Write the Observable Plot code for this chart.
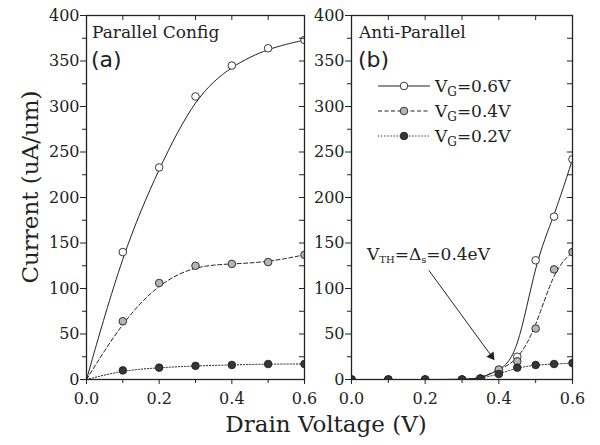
<!DOCTYPE html>
<html><head><meta charset="utf-8">
<script src="https://cdn.jsdelivr.net/npm/d3@7"></script>
<script src="https://cdn.jsdelivr.net/npm/@observablehq/plot@0.6"></script>
<style>
body{margin:0;background:#fff;}
#wrap{position:relative;width:600px;height:445px;overflow:hidden;}
#wrap svg{position:absolute;top:0;}
</style></head><body><div id="wrap"></div>
<script>
// ---- data ----
const xPar = [0, 0.1, 0.2, 0.3, 0.4, 0.5, 0.6];
const parVG06 = [0, 140, 233, 311, 345, 364, 373];
const parVG04 = [0, 64, 106, 125, 127, 129, 137];
const parVG02 = [0, 10, 13, 15, 16, 17, 17];
const xAnti = [0, 0.1, 0.2, 0.3, 0.35, 0.4, 0.45, 0.5, 0.55, 0.6];
const antiVG06 = [0, 0, 0, 0, 1, 10, 25, 131, 179, 242];
const antiVG04 = [0, 0, 0, 0, 1, 11, 20, 56, 121, 140];
const antiVG02 = [0, 0, 0, 0, 1, 6, 13, 16, 17, 18];
const gateVoltages = ["0.6", "0.4", "0.2"];
const xTicks = [0, 0.2, 0.4, 0.6];
const xMinor = [0.1, 0.3, 0.5];
const yTicks = [0, 50, 100, 150, 200, 250, 300, 350, 400];
const yMinor = [25, 75, 125, 175, 225, 275, 325, 375];
const panelTitles = ["Parallel Config", "Anti-Parallel"];
const panelTags = ["(a)", "(b)"];
const xLabel = "Drain Voltage (V)";
const yLabel = "Current (uA/um)";
const annotTail = [0.21, 120];
const annotHead = [0.385, 23];

// ---- styles ----
const dashes = [null, "4,2.5", "1.3,1.8"];
const fills = ["#ffffff", "#b5b5b5", "#363636"];
const ink = "#222";

function panel(xs, series, dotMinX, w, mL, mR, extra = []) {
  const marks = [];
  series.forEach((vals, j) => {
    const rows = xs.map((x, i) => ({x, y: vals[i]}));
    marks.push(Plot.line(rows, {x: "x", y: "y", curve: "basis", stroke: ink, strokeWidth: 1,
      strokeDasharray: dashes[j], clip: true}));
  });
  series.forEach((vals, j) => {
    const rows = xs.map((x, i) => ({x, y: vals[i]})).filter(d => d.x >= dotMinX);
    marks.push(Plot.dot(rows, {x: "x", y: "y", r: 3.8, fill: fills[j], stroke: ink, strokeWidth: 0.9, clip: true}));
  });
  const allX = xTicks.concat(xMinor);
  const allY = yTicks.concat(yMinor);
  marks.push(
    Plot.frame({stroke: ink, strokeWidth: 1.3}),
    Plot.axisX({ticks: xTicks, tickSize: 5, tickPadding: 8, tickFormat: d3.format(".1f"), label: null, stroke: ink, fill: ink}),
    Plot.axisX({ticks: xMinor, tickSize: 4, tickFormat: () => "", label: null, stroke: ink}),
    Plot.axisX({anchor: "bottom", frameAnchor: "top", ticks: allX, tickSize: 5, tickFormat: () => "", label: null, stroke: ink}),
    Plot.axisY({ticks: yTicks, tickSize: 6, tickPadding: 1, tickFormat: d => String(d), label: null, stroke: ink, fill: ink}),
    Plot.axisY({ticks: yMinor, tickSize: 4, tickFormat: () => "", label: null, stroke: ink}),
    Plot.axisY({anchor: "left", frameAnchor: "right", ticks: allY, tickSize: 5, tickFormat: () => "", label: null, stroke: ink}),
    ...extra
  );
  return Plot.plot({
    width: w, height: 445,
    marginLeft: mL, marginRight: mR, marginTop: 15, marginBottom: 66,
    x: {domain: [0, 0.6]},
    y: {domain: [0, 400]},
    style: {fontFamily: "'DejaVu Serif', serif", fontSize: "16px", background: "transparent", overflow: "visible", color: ink},
    marks
  });
}

const wrap = document.getElementById("wrap");
const p1 = panel(xPar, [parVG06, parVG04, parVG02], 0.05, 310, 86, 6);
p1.style.left = "0px";
const arrowMarks = [
  Plot.link([0], {x1: () => annotTail[0], y1: () => annotTail[1], x2: () => annotHead[0], y2: () => annotHead[1], stroke: ink, strokeWidth: 1}),
  Plot.dot([0], {x: () => annotHead[0], y: () => annotHead[1], symbol: "triangle2", r: 4.2, rotate: 144, fill: ink, dx: -1.8, dy: -2.4})
];
const p2 = panel(xAnti, [antiVG06, antiVG04, antiVG02], -1, 300, 51, 28, arrowMarks);
p2.style.left = "300px";
wrap.appendChild(p1);
wrap.appendChild(p2);

// ---- overlay text: titles, legend, annotation, axis titles ----
const svg = d3.select(wrap).append("svg")
  .attr("width", 600).attr("height", 445)
  .style("left", "0px").style("pointer-events", "none")
  .style("font-family", "'DejaVu Serif', serif").attr("fill", ink);

const titleX = [92, 359];
panelTitles.forEach((t, i) => {
  svg.append("text").attr("x", titleX[i]).attr("y", 38).attr("font-size", 17).text(t);
  svg.append("text").attr("x", titleX[i] - 1).attr("y", 67).attr("font-size", 22)
    .attr("font-family", "'DejaVu Sans', sans-serif").text(panelTags[i]);
});

gateVoltages.forEach((v, j) => {
  const y = 86 + 25 * j;
  svg.append("line").attr("x1", 378).attr("x2", 430).attr("y1", y).attr("y2", y)
    .attr("stroke", ink).attr("stroke-width", 1).attr("stroke-dasharray", dashes[j]);
  svg.append("circle").attr("cx", 404).attr("cy", y).attr("r", 3.8)
    .attr("fill", fills[j]).attr("stroke", ink).attr("stroke-width", 0.9);
  const t = svg.append("text").attr("x", 435).attr("y", y + 6).attr("font-size", 17);
  t.append("tspan").text("V");
  t.append("tspan").attr("font-size", 12).attr("dy", 4).text("G");
  t.append("tspan").attr("dy", -4).text("=" + v + "V");
});

const a = svg.append("text").attr("x", 367).attr("y", 260).attr("font-size", 17);
a.append("tspan").text("V");
a.append("tspan").attr("font-size", 10).attr("dy", 3).text("TH");
a.append("tspan").attr("dy", -3).text("=Δ");
a.append("tspan").attr("font-size", 10).attr("dy", 3).text("s");
a.append("tspan").attr("dy", -3).text("=0.4eV");

svg.append("text").attr("x", 326).attr("y", 432).attr("font-size", 23)
  .attr("text-anchor", "middle").text(xLabel);
svg.append("text").attr("transform", "translate(38,187) rotate(-90)").attr("font-size", 23)
  .attr("text-anchor", "middle").text(yLabel);
</script>
</body></html>
